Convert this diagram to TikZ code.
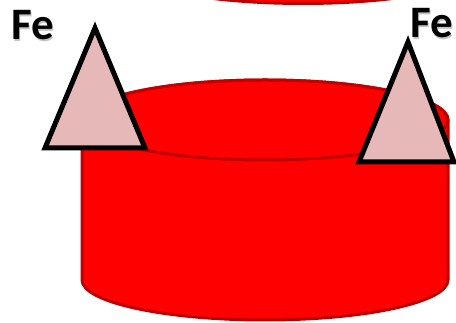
\documentclass[tikz,border=0pt]{standalone}
\usepackage{fontspec}
\setmainfont{Carlito}
\definecolor{cylred}{HTML}{FF0000}
\definecolor{cyledge}{HTML}{C00000}
\definecolor{trifill}{HTML}{E6B9B8}
\tikzset{
  cyl/.style={fill=cylred, draw=cyledge, line width=3pt},
  tri/.style={fill=trifill, draw=black, line width=5pt, line join=miter},
  felabel/.style={font=\fontsize{45}{45}\selectfont\bfseries, inner sep=0pt, anchor=base west},
  feshadow/.style={felabel, text=black!45, opacity=0.5}
}
\begin{document}
\begin{tikzpicture}[x=1pt,y=1pt]
\useasboundingbox (0,0) rectangle (456,323);
\clip (0,0) rectangle (456,323);
% partial shape at the top
\draw[cyl] (303,359.5) ellipse [x radius=185, y radius=40];
% cylinder
\draw[cyl] (82,203) -- (82,43) arc[start angle=180, end angle=360, x radius=183, y radius=40] -- (448,203)
  arc[start angle=0, end angle=180, x radius=183, y radius=40] -- cycle;
\draw[cyl] (265,203) ellipse [x radius=183, y radius=40];
% triangles
\draw[tri] (95,295) -- (145,175) -- (45,175) -- cycle;
\draw[tri] (408,281) -- (454,161) -- (359,161) -- cycle;
% labels
\node[feshadow] at (12.5,281.5) {Fe};
\node[felabel] (fe1) at (11,283) {Fe};
\node[feshadow] at (411.5,283.5) {Fe};
\node[felabel] (fe2) at (410,285) {Fe};
\end{tikzpicture}
\end{document}
